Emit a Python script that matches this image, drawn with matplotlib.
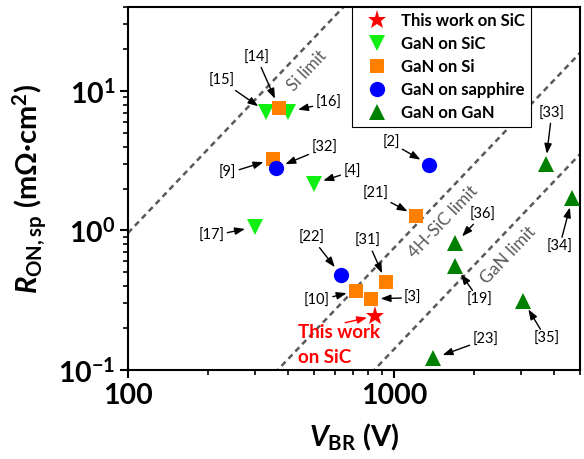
#!/usr/bin/env python3
# -*- coding=utf-8 -*-

import numpy as np
import matplotlib
matplotlib.use('Agg')
import matplotlib.pyplot as plt
from matplotlib.ticker import FixedLocator, FuncFormatter, NullFormatter, LogLocator

plt.rcParams['font.family'] = ['Lato', 'DejaVu Sans']
plt.rcParams['mathtext.fontset'] = 'custom'
plt.rcParams['mathtext.rm'] = 'Lato:bold'
plt.rcParams['mathtext.bf'] = 'Lato:bold'
plt.rcParams['mathtext.it'] = 'Lato:italic:bold'

# V_BR (V) and R_on,sp (mOhm*cm2) for each group
this_v = [850]
this_r = [0.245]

sic_v = [331, 401, 500, 299]
sic_r = [7.1, 7.1, 2.17, 1.06]
sic_refs = ['[15]', '[16]', '[4]', '[17]']

si_v = [369, 350, 1211, 933, 720, 818]
si_r = [7.6, 3.24, 1.27, 0.425, 0.37, 0.324]
si_refs = ['[14]', '[9]', '[21]', '[31]', '[10]', '[3]']

sap_v = [361, 1352, 631]
sap_r = [2.81, 2.97, 0.481]
sap_refs = ['[32]', '[2]', '[22]']

gan_v = [3715, 4680, 1702, 1700, 3062, 1406]
gan_r = [3.02, 1.71, 0.807, 0.555, 0.312, 0.121]
gan_refs = ['[33]', '[34]', '[36]', '[19]', '[35]', '[23]']

# material limits, R = k * V^2
limit_k = {'Si': 9.6e-5, '4H-SiC': 7.5e-7, 'GaN': 1.41e-7}
limit_v = [100, 5000]

# label offsets from the point (pixels, y up)
ref_off = {
    '[15]': (-45, 31), '[14]': (-22, 50), '[16]': (40, 9), '[9]': (-45, -14),
    '[32]': (48, 20), '[4]': (38, 12), '[17]': (-43, -9), '[2]': (-38, 22),
    '[21]': (-41, 22), '[36]': (27, 29), '[33]': (6, 50), '[34]': (-13, -49),
    '[31]': (-18, 41), '[22]': (-29, 37), '[10]': (-39, -10), '[3]': (42, 1),
    '[19]': (24, -34), '[35]': (23, -38), '[23]': (52, 19),
}

fig = plt.figure(figsize=(5.84, 4.59), dpi=100)
ax = fig.add_axes([128 / 584, 1 - 370 / 459, 452 / 584, 363 / 459])
ax.set_xscale('log')
ax.set_yscale('log')
ax.set_xlim(100, 5000)
ax.set_ylim(0.1, 40)

gray = '#5a5a5a'
vv = np.array(limit_v, dtype=float)
for name, k in limit_k.items():
    ax.plot(vv, k * vv ** 2, color=gray, lw=1.8, ls=(0, (2.3, 1.7)), zorder=1)

ax.text(472, 14.0, 'Si limit', color=gray, fontsize=12, rotation=46.5,
        ha='center', va='center', rotation_mode='anchor')
ax.text(1527, 1.15, '4H-SiC limit', color=gray, fontsize=12.5, rotation=46.5,
        ha='center', va='center', rotation_mode='anchor')
ax.text(2692, 0.666, 'GaN limit', color=gray, fontsize=12.5, rotation=46.5,
        ha='center', va='center', rotation_mode='anchor')

mk = dict(ls='none', mew=0, zorder=3)
ax.plot(this_v, this_r, marker='*', ms=14, color='#ff0000', label='This work on SiC', **mk)
ax.plot(sic_v, sic_r, marker='v', ms=11.5, color='#11ee11', label='GaN on SiC', **mk)
ax.plot(si_v, si_r, marker='s', ms=9.6, color='#ff8000', label='GaN on Si', **mk)
ax.plot(sap_v, sap_r, marker='o', ms=11, color='#0000ff', label='GaN on sapphire', **mk)
ax.plot(gan_v, gan_r, marker='^', ms=12, color='#008000', label='GaN on GaN', **mk)

arrow = dict(arrowstyle='-|>,head_length=0.6,head_width=0.22', color='black',
             lw=1.0, shrinkA=0, shrinkB=7, mutation_scale=10)
for vs, rs, refs in [(sic_v, sic_r, sic_refs), (si_v, si_r, si_refs),
                     (sap_v, sap_r, sap_refs), (gan_v, gan_r, gan_refs)]:
    for v, r, ref in zip(vs, rs, refs):
        dx, dy = ref_off[ref]
        ax.annotate(ref, xy=(v, r), xytext=(dx * 0.72, dy * 0.72),
                    textcoords='offset points', fontsize=10.5,
                    ha='center', va='center', arrowprops=arrow, zorder=4)

# this work label
ax.annotate('', xy=(this_v[0], this_r[0]), xytext=(-30 * 0.72, -7 * 0.72),
            textcoords='offset points',
            arrowprops=dict(arrowstyle='-|>,head_length=0.6,head_width=0.22',
                            color='#ff0000', lw=1.0, shrinkA=0, shrinkB=6,
                            mutation_scale=10))
ax.annotate('This work\non SiC', xy=(this_v[0], this_r[0]),
            xytext=(-77 * 0.72, -8 * 0.72), textcoords='offset points',
            color='#ff0000', fontsize=13.5, fontweight='bold',
            ha='left', va='top', linespacing=1.6)

# axes style
for s in ax.spines.values():
    s.set_linewidth(1.5)
ax.xaxis.set_major_locator(FixedLocator([100, 1000]))
ax.xaxis.set_major_formatter(FuncFormatter(lambda x, p: '%d' % x))
ax.xaxis.set_minor_locator(LogLocator(base=10, subs=np.arange(2, 10)))
ax.xaxis.set_minor_formatter(NullFormatter())
ax.yaxis.set_major_locator(FixedLocator([0.1, 1, 10]))
ax.yaxis.set_major_formatter(FuncFormatter(
    lambda y, p: '10$^{%d}$' % int(round(np.log10(y)))))
ax.yaxis.set_minor_locator(LogLocator(base=10, subs=np.arange(2, 10)))
ax.yaxis.set_minor_formatter(NullFormatter())
ax.tick_params(which='major', direction='out', length=6, width=1.5,
               labelsize=20.5, pad=3)
ax.tick_params(which='minor', direction='out', length=3.5, width=1.2)
for lab in ax.get_xticklabels() + ax.get_yticklabels():
    lab.set_fontweight('bold')

ax.set_xlabel('$V_{\\mathrm{BR}}$ (V)', fontsize=21, fontweight='bold', labelpad=10)
ax.set_ylabel('$R_{\\mathrm{ON,sp}}$ (m\u03a9\u00b7cm$^{2}$)', fontsize=21,
              fontweight='bold', labelpad=7)

leg = ax.legend(loc='upper left', bbox_to_anchor=(0.496, 1.0), borderaxespad=0,
                prop={'weight': 'bold', 'size': 12},
                fancybox=False, framealpha=1, edgecolor='black',
                handlelength=2.3, handletextpad=0.3, labelspacing=0.42,
                borderpad=0.35, numpoints=1)
leg.get_frame().set_linewidth(0.8)

fig.savefig('out.png', dpi=100)
